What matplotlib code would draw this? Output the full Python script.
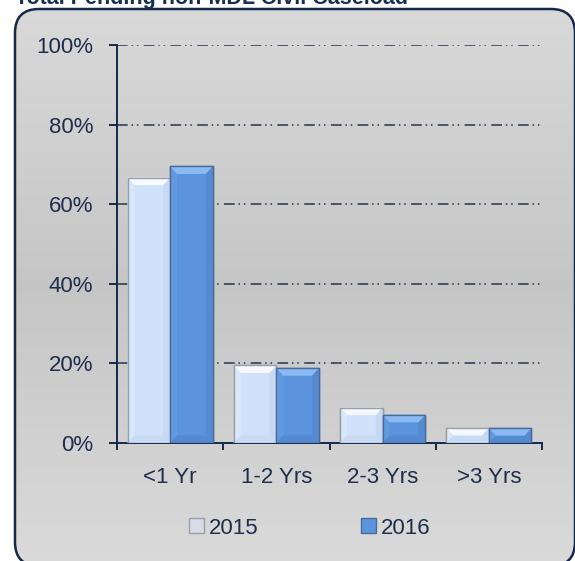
import numpy as np
import matplotlib
matplotlib.use("Agg")
import matplotlib.pyplot as plt
from matplotlib.patches import FancyBboxPatch, Polygon, Rectangle

# data
categories = ["<1 Yr", "1-2 Yrs", "2-3 Yrs", ">3 Yrs"]
pct_2015 = [66.7, 19.5, 8.9, 3.8]
pct_2016 = [69.5, 18.8, 7.1, 3.7]
y_ticks = [0, 20, 40, 60, 80, 100]
series_names = ["2015", "2016"]

navy = "#14284b"
text_col = "#1f2d4d"
plt.rcParams['font.family'] = ['Liberation Sans', 'DejaVu Sans']

fig = plt.figure(figsize=(5.75, 5.61), dpi=100)

# background panel with rounded border and a soft vertical gradient
bg = fig.add_axes([0, 0, 1, 1], zorder=-5)
bg.set_xlim(0, 575)
bg.set_ylim(0, 561)
bg.axis("off")
rows = np.linspace(0, 1, 200)  # top -> bottom
grey = np.interp(rows, [0, 0.5, 1], [0.85, 0.775, 0.855])
grad = np.repeat(np.repeat(grey[:, None, None], 3, axis=2), 2, axis=1)
img = bg.imshow(grad, extent=(15, 576, -5, 552), origin="upper", aspect="auto",
                interpolation="bilinear")
clip = FancyBboxPatch((15, -5), 560, 557, boxstyle="round,pad=0,rounding_size=24",
                      fc="none", ec="none")
bg.add_patch(clip)
img.set_clip_path(clip)
bg.add_patch(FancyBboxPatch((15, -5), 560, 557, boxstyle="round,pad=0,rounding_size=24",
                            fc="none", ec=navy, lw=1.8))

fig.text(15 / 575, 1 - 4 / 561, "Total Pending non-MDL Civil Caseload",
         fontweight="bold", fontsize=15.5, color="#1a2e50",
         va="baseline", ha="left")

ax = fig.add_axes([117 / 575, 1 - 443 / 561, (542 - 117) / 575, (443 - 45) / 561])
ax.set_facecolor("none")

x = np.arange(len(categories))
w = 0.4
styles = [
    dict(face="#d0e2f9", edge="#9a9ea6", top="#f6f9ff", side_l="#d8e8fc", side_r="#c6d9f2", bot="#c9dbf3"),
    dict(face="#5b94dc", edge="#4a6c9c", top="#8abaf1", side_l="#619ae0", side_r="#5589d0", bot="#5389cf"),
]
for i, vals in enumerate([pct_2015, pct_2016]):
    st = styles[i]
    bars = ax.bar(x + (i - 0.5) * w, vals, w, color=st["face"], edgecolor=st["edge"],
                  linewidth=1.0, zorder=3)
    # bevel facets
    for b in bars:
        x0, bw, h = b.get_x(), b.get_width(), b.get_height()
        bx = 0.065
        by = min(1.9, h / 2.0)
        facets = [
            ([(x0, 0), (x0, h), (x0 + bx, h - by), (x0 + bx, by)], st["side_l"]),
            ([(x0 + bw, 0), (x0 + bw, h), (x0 + bw - bx, h - by), (x0 + bw - bx, by)], st["side_r"]),
            ([(x0, 0), (x0 + bw, 0), (x0 + bw - bx, by), (x0 + bx, by)], st["bot"]),
            ([(x0, h), (x0 + bw, h), (x0 + bw - bx, h - by), (x0 + bx, h - by)], st["top"]),
        ]
        for pts, c in facets:
            ax.add_patch(Polygon(pts, closed=True, fc=c, ec="none", zorder=3.5))
        ax.add_patch(Rectangle((x0, 0), bw, h, fc="none", ec=st["edge"], lw=1.0, zorder=4))

ax.set_xlim(-0.5, len(categories) - 0.5)
ax.set_ylim(0, 100)
ax.set_yticks(y_ticks)
ax.set_yticklabels([f"{t}%" for t in y_ticks])
for t in y_ticks[1:]:
    ax.axhline(t, color="#26344f", lw=1.1, linestyle=(0, (7, 2.5, 1, 2.5, 1, 3.5)), zorder=1)

ax.set_xticks(x)
ax.set_xticklabels(categories)
ax.set_xticks(np.arange(len(categories) + 1) - 0.5, minor=True)
ax.tick_params(axis="x", which="major", length=0, pad=17, labelsize=16, labelcolor=text_col)
ax.tick_params(axis="x", which="minor", length=5, width=1.4, color=navy, direction="out")
ax.tick_params(axis="y", length=6, width=1.4, color=navy, pad=11, labelsize=16, labelcolor=text_col)

for s in ["top", "right"]:
    ax.spines[s].set_visible(False)
for s in ["left", "bottom"]:
    ax.spines[s].set_color(navy)
    ax.spines[s].set_linewidth(1.4)

handles = [Rectangle((0, 0), 1, 1, fc=st["face"], ec=st["edge"], lw=1.0) for st in styles]
handles[0].set_facecolor("#d6dde8")
fig.legend(handles, series_names, loc="center", bbox_to_anchor=(310 / 575, 1 - 528 / 561),
           bbox_transform=fig.transFigure, ncol=2, frameon=False, fontsize=16,
           handlelength=0.65, handleheight=0.65, handletextpad=0.25, columnspacing=4.6,
           labelcolor=text_col)

fig.savefig("out.png", dpi=100)
